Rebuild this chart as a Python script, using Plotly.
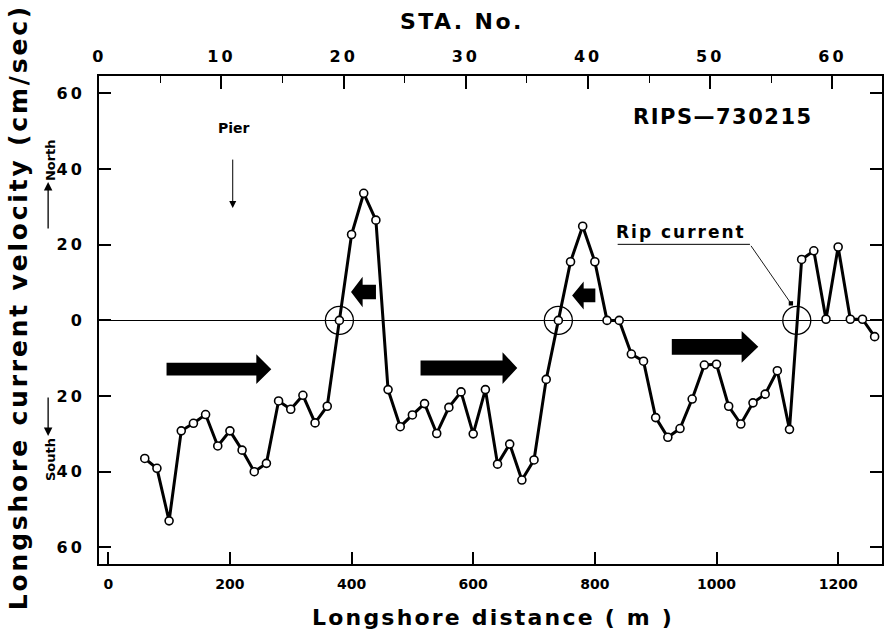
import plotly.graph_objects as go

# ---- data ----
distance_m = [60, 80, 100, 120, 140, 160, 180, 200, 220, 240, 260, 280, 300, 320, 340,
              360, 380, 400, 420, 440, 460, 480, 500, 520, 540, 560, 580, 600, 620, 640,
              660, 680, 700, 720, 740, 760, 780, 800, 820, 840, 860, 880, 900, 920, 940,
              960, 980, 1000, 1020, 1040, 1060, 1080, 1100, 1120, 1140, 1160, 1180, 1200,
              1220, 1240, 1260]
velocity = [-36.5, -39.1, -53.0, -29.2, -27.2, -24.9, -33.2, -29.2, -34.3, -40.0, -37.8,
            -21.3, -23.5, -19.8, -27.1, -22.7, 0.0, 22.7, 33.6, 26.5, -18.3, -28.1, -25.0,
            -22.0, -29.9, -23.0, -18.9, -30.0, -18.3, -38.0, -32.7, -42.2, -36.9, -15.6,
            0.0, 15.5, 24.9, 15.5, 0.0, 0.0, -8.9, -10.8, -25.7, -30.9, -28.6, -20.8,
            -11.8, -11.6, -22.7, -27.4, -21.8, -19.5, -13.3, -28.8, 16.1, 18.4, 0.3,
            19.4, 0.3, 0.3, -4.3]
rip_x = [380, 740, 1132]
rip_y = [0, 0, 0]

x_ticks = [0, 200, 400, 600, 800, 1000, 1200]
sta_ticks = [0, 10, 20, 30, 40, 50, 60]
y_ticks = [-60, -40, -20, 0, 20, 40, 60]
y_ticktext = ["60", "40", "20", "0", "20", "40", "60"]

FONT = "DejaVu Sans"


def sp(s, px):
    return '<span style="letter-spacing:%spx">%s</span>' % (px, s)


fig = go.Figure()
fig.add_trace(go.Scatter(
    x=distance_m, y=velocity, mode="lines+markers",
    line=dict(color="black", width=3),
    marker=dict(symbol="circle", size=8, color="white",
                line=dict(color="black", width=1.6)),
    showlegend=False, hoverinfo="skip"))
fig.add_trace(go.Scatter(
    x=rip_x, y=rip_y, mode="markers",
    marker=dict(symbol="circle-open", size=28, color="black",
                line=dict(color="black", width=1.3)),
    showlegend=False, hoverinfo="skip"))
# dummy trace so the station axis is built
fig.add_trace(go.Scatter(x=[sta_ticks[0]], y=[0], xaxis="x2", mode="markers",
                         marker=dict(opacity=0), showlegend=False, hoverinfo="skip"))

shapes = []
# big current arrows (data units)
big_arrows = [
    (95.8, 243.4, 268.0, -12.9, 1.7, 3.93),
    (513.4, 648.2, 672.4, -12.6, 2.0, 4.2),
    (926.5, 1041.3, 1068.7, -7.0, 2.1, 4.2),
]
for x0, xb, xt, yc, bh, hh in big_arrows:
    path = (f"M {x0},{yc+bh} L {xb},{yc+bh} L {xb},{yc+hh} L {xt},{yc} "
            f"L {xb},{yc-hh} L {xb},{yc-bh} L {x0},{yc-bh} Z")
    shapes.append(dict(type="path", xref="x", yref="y", path=path,
                       fillcolor="black", line=dict(width=0)))
small_arrows = [
    (399.1, 418.2, 440.1, 7.5, 1.9, 4.0),
    (762.6, 781.6, 800.8, 6.6, 1.8, 3.7),
]
for xt, xb, x1, yc, bh, hh in small_arrows:
    path = (f"M {xt},{yc} L {xb},{yc+hh} L {xb},{yc+bh} L {x1},{yc+bh} "
            f"L {x1},{yc-bh} L {xb},{yc-bh} L {xb},{yc-hh} Z")
    shapes.append(dict(type="path", xref="x", yref="y", path=path,
                       fillcolor="black", line=dict(width=0)))
# underline of "Rip current"
shapes.append(dict(type="line", xref="x", yref="y", x0=837.5, x1=1055, y0=20.1, y1=20.1,
                   line=dict(color="black", width=1)))

ann = []
ann.append(dict(text=sp("Longshore current velocity (cm/sec)", 2.8), textangle=-90,
                xref="paper", yref="paper", x=-0.103, y=0.527, showarrow=False,
                xanchor="center", yanchor="middle",
                font=dict(family=FONT, size=25, weight="bold", color="black")))
ann.append(dict(text=sp("Longshore distance ( m )", 2.2),
                xref="paper", yref="paper", x=0.503, y=-0.109, showarrow=False,
                xanchor="center", yanchor="middle",
                font=dict(family=FONT, size=22, weight="bold", color="black")))
ann.append(dict(text=sp("STA. No.", 2.4),
                xref="paper", yref="paper", x=0.464, y=1.112, showarrow=False,
                xanchor="center", yanchor="middle",
                font=dict(family=FONT, size=22, weight="bold", color="black")))
ann.append(dict(text=sp("RIPS—730215", 1.5),
                xref="paper", yref="paper", x=(724.5 - 99) / 785, y=(564 - 117) / 488,
                showarrow=False, xanchor="center", yanchor="middle",
                font=dict(family=FONT, size=21, weight="bold", color="black")))
ann.append(dict(text="Pier", xref="x", yref="y", x=206.5, y=50.8, showarrow=False,
                xanchor="center", yanchor="middle",
                font=dict(family=FONT, size=14, weight="bold", color="black")))
ann.append(dict(text="", xref="x", yref="y", x=204.6, y=29.7, ax=204.6, ay=42.9,
                axref="x", ayref="y", showarrow=True, arrowhead=2, arrowsize=1.4,
                arrowwidth=1, arrowcolor="black"))
ann.append(dict(text=sp("Rip current", 2), xref="x", yref="y", x=941.9, y=23.3,
                showarrow=False, xanchor="center", yanchor="middle",
                font=dict(family=FONT, size=17, weight="bold", color="black")))
ann.append(dict(text="", xref="x", yref="y", x=1122.3, y=4.5, ax=1055, ay=20.1,
                axref="x", ayref="y", showarrow=True, arrowhead=7, arrowsize=1.2,
                arrowwidth=0.9, arrowcolor="black"))
# North / South hints
ann.append(dict(text="North", textangle=-90, xref="paper", yref="paper",
                x=(50 - 99) / 785, y=(564 - 160) / 488, showarrow=False,
                xanchor="center", yanchor="middle",
                font=dict(family=FONT, size=13, weight="bold", color="black")))
ann.append(dict(text="South", textangle=-90, xref="paper", yref="paper",
                x=(50 - 99) / 785, y=(564 - 460) / 488, showarrow=False,
                xanchor="center", yanchor="middle",
                font=dict(family=FONT, size=13, weight="bold", color="black")))
ann.append(dict(text="", xref="paper", yref="paper", x=(48 - 99) / 785,
                y=(564 - 182) / 488, ax=0, ay=48, showarrow=True, arrowhead=2,
                arrowsize=1.3, arrowwidth=1.3, arrowcolor="black"))
ann.append(dict(text="", xref="paper", yref="paper", x=(48 - 99) / 785,
                y=(564 - 436) / 488, ax=0, ay=-40, showarrow=True, arrowhead=2,
                arrowsize=1.3, arrowwidth=1.3, arrowcolor="black"))

fig.update_layout(
    width=887, height=637,
    margin=dict(l=99, r=3, t=76, b=73, pad=0),
    paper_bgcolor="white", plot_bgcolor="white",
    shapes=shapes, annotations=ann,
    font=dict(family=FONT, color="black"),
    xaxis=dict(range=[-15.25, 1272.1], tickvals=x_ticks, ticks="inside", ticklen=12,
               tickwidth=1.6, tickcolor="black", showline=True, linewidth=2,
               linecolor="black", mirror=True, showgrid=False, zeroline=False,
               ticklabelstandoff=6,
               tickfont=dict(family=FONT, size=14, weight="bold", color="black")),
    xaxis2=dict(overlaying="x", side="top", anchor="y",
                range=[-0.02, 64.06], tickvals=sta_ticks,
                ticktext=[sp(str(v), 3) for v in sta_ticks],
                ticks="inside", ticklen=13, tickwidth=1.6, tickcolor="black",
                minor=dict(dtick=5, ticklen=7, tickwidth=1.4, ticks="inside",
                           tickcolor="black"),
                showline=True, linewidth=2, linecolor="black", showgrid=False,
                zeroline=False, ticklabelstandoff=6,
                tickfont=dict(family=FONT, size=16, weight="bold", color="black")),
    yaxis=dict(range=[-64.4, 64.6], tickvals=y_ticks,
               ticktext=[sp(t, 3) for t in y_ticktext],
               ticks="inside", ticklen=12, tickwidth=1.6, tickcolor="black",
               showline=True, linewidth=2, linecolor="black", mirror="ticks",
               showgrid=False, zeroline=True, zerolinewidth=1, zerolinecolor="black",
               ticklabelstandoff=9,
               tickfont=dict(family=FONT, size=16, weight="bold", color="black")),
)

fig.write_html("out.html")
